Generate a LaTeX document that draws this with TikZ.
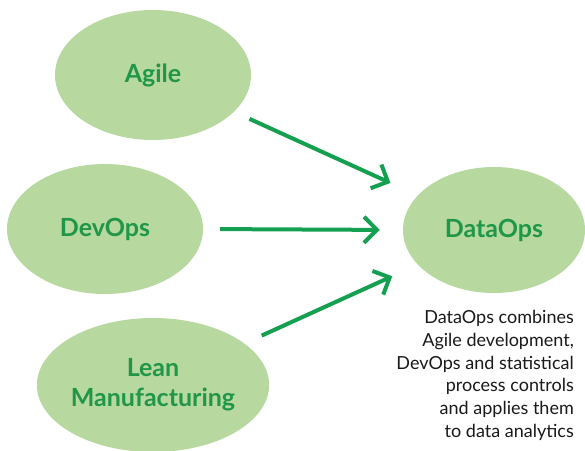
\documentclass[tikz,border=0pt]{standalone}
\usepackage{fontspec}
\setmainfont{Lato}
\usetikzlibrary{shapes.geometric,arrows.meta}
\definecolor{fillg}{RGB}{183,216,158}
\definecolor{textg}{RGB}{32,150,72}
\definecolor{arrowg}{RGB}{20,160,80}
\tikzset{
  bubble/.style={ellipse, fill=fillg, inner sep=0pt, text=textg, font=\bfseries\fontsize{25}{30}\selectfont, align=center},
  link/.style={draw=arrowg, line width=4pt, -{Straight Barb[length=13pt,width=26pt,line width=4pt]}}
}
\begin{document}
\begin{tikzpicture}[x=1pt,y=-1pt]
\useasboundingbox (0,0) rectangle (585,450);
\node[bubble, minimum width=196pt, minimum height=130pt] (agile) at (153,75) {Agile};
\node[bubble, minimum width=196pt, minimum height=130pt] (devops) at (105,229) {DevOps};
\node[bubble, minimum width=200pt, minimum height=134pt] (lean) at (153,385) {Lean\\Manufacturing};
\node[bubble, minimum width=182pt, minimum height=126pt] (dataops) at (494,230) {DataOps};
\node[anchor=north east, align=right, inner sep=0pt, font=\fontsize{18}{22.8}\selectfont, text=black!90] (desc) at (574,310)
  {DataOps combines\\Agile development,\\DevOps and statistical\\process controls\\and applies them\\to data analytics};
\draw[link, shorten <=17pt, shorten >=30pt] (agile) -- (dataops);
\draw[link, shorten <=17pt, shorten >=23pt] (devops.east) -- (dataops.west);
\draw[link, shorten <=19pt, shorten >=28pt] (lean) -- (dataops);
\end{tikzpicture}
\end{document}
